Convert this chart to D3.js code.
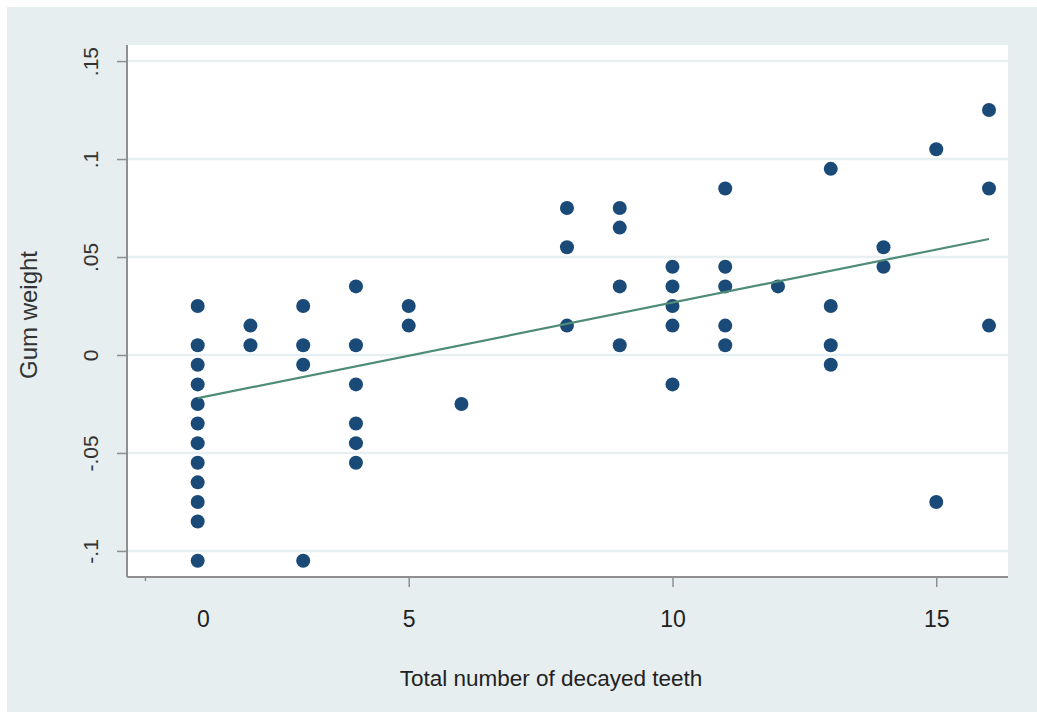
<!DOCTYPE html>
<html>
<head>
<meta charset="utf-8">
<script src="https://cdn.jsdelivr.net/npm/d3@7"></script>
<style>
  html, body { margin: 0; padding: 0; background: #ffffff; }
  svg { display: block; font-family: "Liberation Sans", Arial, sans-serif; }
</style>
</head>
<body>
<svg id="chart" width="1037" height="712"></svg>
<script>
// number of decayed teeth for each point
const decayed = [
  1, 1, 1, 1, 1, 1, 1, 1, 1, 1, 1, 1,
  2, 2,
  3, 3, 3, 3,
  4, 4, 4, 4, 4, 4,
  5, 5,
  6,
  8, 8, 8,
  9, 9, 9, 9,
  10, 10, 10, 10, 10,
  11, 11, 11, 11, 11,
  12,
  13, 13, 13, 13,
  14, 14,
  15, 15,
  16, 16, 16
];
// gum weight for each point
const gumWeight = [
  0.025, 0.005, -0.005, -0.015, -0.025, -0.035, -0.045, -0.055, -0.065, -0.075, -0.085, -0.105,
  0.015, 0.005,
  0.025, 0.005, -0.005, -0.105,
  0.035, 0.005, -0.015, -0.035, -0.045, -0.055,
  0.025, 0.015,
  -0.025,
  0.075, 0.055, 0.015,
  0.075, 0.065, 0.035, 0.005,
  0.045, 0.035, 0.025, 0.015, -0.015,
  0.085, 0.045, 0.035, 0.015, 0.005,
  0.035,
  0.095, 0.025, 0.005, -0.005,
  0.055, 0.045,
  0.105, -0.075,
  0.125, 0.085, 0.015
];
// fitted line ends
const fitX = [1, 16];
const fitY = [-0.022, 0.0592];

const xTicks = [0, 5, 10, 15];
const yTicks = [-0.1, -0.05, 0, 0.05, 0.1, 0.15];
const yTickLabels = ['-.1', '-.05', '0', '.05', '.1', '.15'];

const svg = d3.select('#chart');

// outer background
svg.append('rect')
    .attr('x', 7).attr('y', 7)
    .attr('width', 1030).attr('height', 705)
    .attr('fill', '#e6eef0');

const plotLeft = 127, plotRight = 1008, plotTop = 45, plotBottom = 577;

const xScale = d3.scaleLinear().domain([-0.34, 16.36]).range([plotLeft, plotRight]);
const yScale = d3.scaleLinear().domain([-0.1133, 0.1582]).range([plotBottom, plotTop]);

// plot region
svg.append('rect')
    .attr('x', plotLeft).attr('y', plotTop)
    .attr('width', plotRight - plotLeft).attr('height', plotBottom - plotTop)
    .attr('fill', '#ffffff');

// grid lines
svg.append('g')
  .selectAll('line')
  .data(yTicks)
  .enter()
  .append('line')
    .attr('x1', plotLeft).attr('x2', plotRight)
    .attr('y1', (d) => yScale(d)).attr('y2', (d) => yScale(d))
    .attr('stroke', '#e7eff1')
    .attr('stroke-width', 2.5);

// y axis
const yAxis = svg.append('g')
    .attr('transform', `translate(${plotLeft},0)`)
    .call(d3.axisLeft(yScale).tickValues(yTicks).tickSize(10).tickSizeOuter(0)
      .tickFormat((d, i) => yTickLabels[i]));
yAxis.select('.domain').attr('stroke', '#8f8f8f').attr('stroke-width', 2)
    .attr('d', `M0,${plotTop}V${plotBottom}`);
yAxis.selectAll('.tick line').attr('stroke', '#8f8f8f').attr('stroke-width', 1.5);
yAxis.selectAll('.tick text')
    .attr('x', 0).attr('y', 0).attr('dy', 0)
    .attr('transform', 'translate(-29,0) rotate(-90)')
    .attr('text-anchor', 'middle')
    .attr('font-size', 21)
    .attr('fill', '#333333')
    .attr('font-family', '"Liberation Sans", Arial, sans-serif');

// x axis
const xAxis = svg.append('g')
    .attr('transform', `translate(0,${plotBottom})`)
    .call(d3.axisBottom(xScale).tickValues(xTicks).tickSize(10).tickSizeOuter(0)
      .tickFormat(d3.format('d')));
xAxis.select('.domain').attr('stroke', '#8f8f8f').attr('stroke-width', 2)
    .attr('d', `M${plotLeft},0H${plotRight}`);
xAxis.selectAll('.tick line').attr('stroke', '#8f8f8f').attr('stroke-width', 1.5)
    .attr('y2', (d) => d === 0 ? 4 : 10);
xAxis.selectAll('.tick text')
    .attr('y', 50).attr('dy', 0)
    .attr('dx', (d) => d === 0 ? 58 : 0)
    .attr('font-size', 23)
    .attr('fill', '#222222')
    .attr('font-family', '"Liberation Sans", Arial, sans-serif');

// points
svg.append('g')
  .selectAll('circle')
  .data(decayed)
  .enter()
  .append('circle')
    .attr('cx', (d) => xScale(d))
    .attr('cy', (d, i) => yScale(gumWeight[i]))
    .attr('r', 7)
    .attr('fill', '#1a4a77');

// fitted line
svg.append('line')
    .attr('x1', xScale(fitX[0])).attr('y1', yScale(fitY[0]))
    .attr('x2', xScale(fitX[1])).attr('y2', yScale(fitY[1]))
    .attr('stroke', '#4f8c78')
    .attr('stroke-width', 2.2);

// axis titles
svg.append('text')
    .attr('transform', 'translate(37,315) rotate(-90)')
    .attr('text-anchor', 'middle')
    .attr('font-size', 24)
    .attr('fill', '#333333')
    .text('Gum weight');

svg.append('text')
    .attr('x', 551)
    .attr('y', 686)
    .attr('text-anchor', 'middle')
    .attr('font-size', 22.5)
    .attr('fill', '#222222')
    .text('Total number of decayed teeth');
</script>
</body>
</html>
